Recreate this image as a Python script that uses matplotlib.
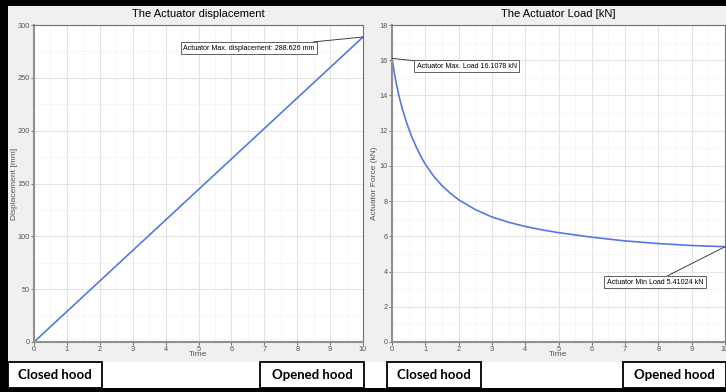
import matplotlib
matplotlib.use('Agg')
import matplotlib.pyplot as plt
from matplotlib.patches import Rectangle

plt.rcParams['font.family'] = ['Liberation Sans', 'DejaVu Sans']

# ---- data ----
disp_time = [0, 10]
disp_mm = [0, 288.626]

load_time = [0, 0.1, 0.2, 0.3, 0.4, 0.5, 0.6, 0.75, 0.9, 1, 1.25, 1.5, 1.75, 2,
             2.5, 3, 3.5, 4, 4.5, 5, 6, 7, 8, 9, 10]
load_kn = [16.1078, 14.95, 14.05, 13.3, 12.68, 12.12, 11.62, 10.98, 10.42, 10.1,
           9.42, 8.88, 8.45, 8.08, 7.52, 7.1, 6.8, 6.56, 6.37, 6.21, 5.95, 5.74,
           5.59, 5.48, 5.41024]

titles = ['The Actuator displacement', 'The Actuator Load [kN]']
ylabels = ['Displacement [mm]', 'Actuator Force (kN)']

W, H = 726, 392
fig = plt.figure(figsize=(W / 100, H / 100), dpi=100, facecolor='#f0f0f0')


def px(x0, y0, x1, y1):
    # pixel box (top-left origin) -> figure fraction rect
    return [x0 / W, 1 - y1 / H, (x1 - x0) / W, (y1 - y0) / H]


def rect(x0, y0, x1, y1, fc, ec='none', lw=0, z=0):
    l, b, w, h = px(x0, y0, x1, y1)
    fig.patches.append(Rectangle((l, b), w, h, transform=fig.transFigure,
                                 facecolor=fc, edgecolor=ec, linewidth=lw, zorder=z))


line_c = '#5479e0'


def style_axes(ax, ymax, ystep):
    ax.set_facecolor('white')
    ax.set_xlim(0, 10)
    ax.set_ylim(0, ymax)
    ax.set_xticks(range(0, 11))
    ax.set_xticks([i + 0.5 for i in range(10)], minor=True)
    ax.set_yticks([ystep * i for i in range(int(ymax / ystep) + 1)])
    ax.set_yticks([ystep * (i + 0.5) for i in range(int(ymax / ystep))], minor=True)
    ax.grid(True, which='major', color='#e4e4e4', lw=0.8)
    ax.grid(True, which='minor', color='#e8e8e8', lw=0.6, ls=(0, (1, 1.5)))
    ax.set_axisbelow(True)
    ax.tick_params(which='major', labelsize=5.3, colors='#555555', length=2,
                   width=0.6, pad=0.8)
    ax.tick_params(which='minor', length=0)
    for s in ax.spines.values():
        s.set_color('#707070')
        s.set_linewidth(0.8)
    ax.spines['left'].set_linewidth(1.5)
    ax.spines['bottom'].set_linewidth(1.5)
    ax.spines['left'].set_color('#909090')
    ax.spines['bottom'].set_color('#909090')
    ax.set_xlabel('Time', fontsize=6, color='#555555', labelpad=-1)


box = dict(boxstyle='square,pad=0.35', fc='white', ec='#606060', lw=0.7)
arr = dict(arrowstyle='-', color='#404040', lw=0.7, shrinkA=0, shrinkB=0)

# left panel
ax1 = fig.add_axes(px(34, 25, 363, 342))
style_axes(ax1, 300, 50)
ax1.plot(disp_time, disp_mm, color=line_c, lw=1.2, clip_on=False)
ax1.set_ylabel(ylabels[0], fontsize=6, color='#555555')
ax1.yaxis.set_label_coords(-0.05, 0.5)
ax1.set_title(titles[0], fontsize=8, pad=6)
ax1.annotate('Actuator Max. displacement: %.3f mm' % disp_mm[-1],
             xy=(disp_time[-1], disp_mm[-1]), xytext=(6.53, 278),
             fontsize=5.1, ha='center', va='center', bbox=box, arrowprops=arr,
             annotation_clip=False)

# right panel
ax2 = fig.add_axes(px(392, 25, 725, 342))
style_axes(ax2, 18, 2)
ax2.plot(load_time, load_kn, color=line_c, lw=1.2, clip_on=False)
ax2.set_ylabel(ylabels[1], fontsize=6, color='#555555')
ax2.yaxis.set_label_coords(-0.043, 0.5)
ax2.set_title(titles[1], fontsize=8, pad=6)
ax2.annotate('Actuator Max. Load %.4f kN' % load_kn[0],
             xy=(load_time[0], load_kn[0]), xytext=(2.25, 15.65),
             fontsize=5.1, ha='center', va='center', bbox=box, arrowprops=arr,
             annotation_clip=False)
ax2.annotate('Actuator Min Load %.5f kN' % load_kn[-1],
             xy=(load_time[-1], load_kn[-1]), xytext=(7.9, 3.4),
             fontsize=5.1, ha='center', va='center', bbox=box, arrowprops=arr,
             annotation_clip=False)

# frame and hood labels
rect(0, 362, W, 388, 'white', z=-1)
rect(0, 0, 8, H, 'black', z=5)
rect(0, 0, W, 6, 'black', z=5)
rect(0, 388, W, H, 'black', z=5)

hood_boxes = [(8, 102, 'Closed hood'), (260, 364, 'Opened hood'),
              (387, 481, 'Closed hood'), (623, 726, 'Opened hood')]
for x0, x1, label in hood_boxes:
    rect(x0, 362, x1, 388, 'white', ec='black', lw=1.3, z=4)
    fig.text((x0 + x1) / 2 / W, 1 - 375 / H, label, ha='center', va='center',
             fontsize=9.5, fontweight='bold', family=['Lato', 'DejaVu Sans'],
             zorder=6)

fig.savefig('out.png', dpi=100, facecolor=fig.get_facecolor())
